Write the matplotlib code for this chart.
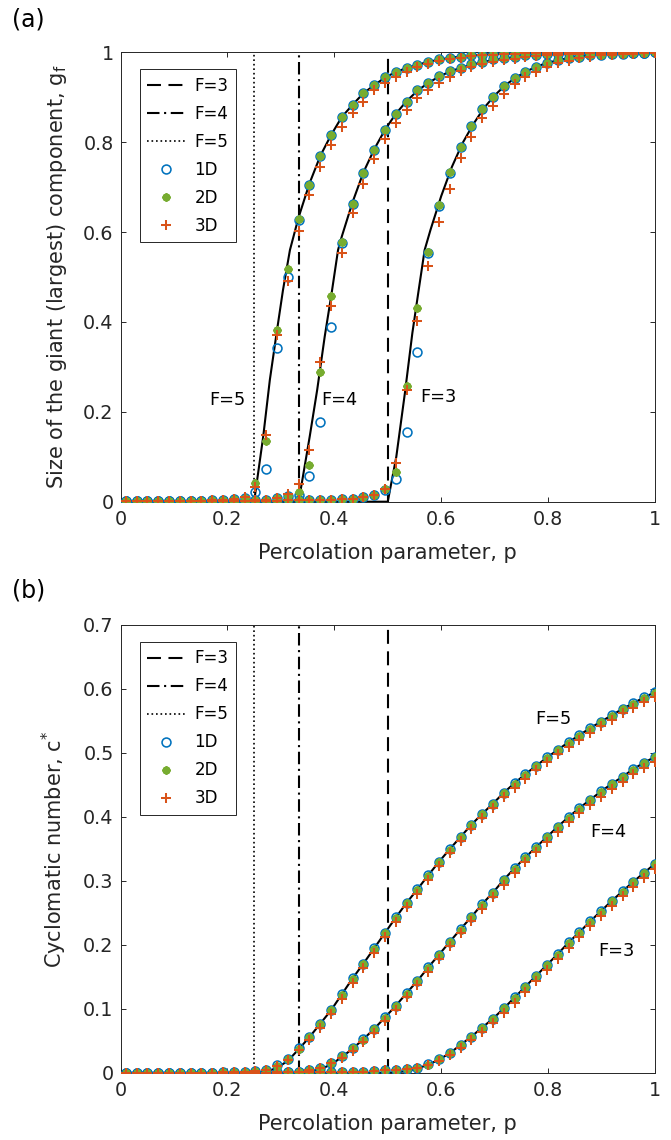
import numpy as np
import matplotlib
matplotlib.use("Agg")
import matplotlib.pyplot as plt

plt.rcParams['font.family'] = ['DejaVu Sans']

# ---------------- data ----------------
# percolation parameter grid used by the simulations
p = np.linspace(0.01, 1.0, 50)

# thresholds p_c = 1/(F-1)
F_values = [3, 4, 5]
p_c = [1 / 2, 1 / 3, 1 / 4]

# (a) size of the giant component, g_f
g3_1d = [0.001] * 10 + [0.001, 0.001, 0.002, 0.002, 0.002, 0.003, 0.003, 0.003, 0.004, 0.004,
                        0.005, 0.006, 0.010, 0.014, 0.026, 0.050, 0.156, 0.332, 0.553, 0.659,
                        0.732, 0.790, 0.836, 0.873, 0.901, 0.926, 0.942, 0.957, 0.968, 0.977,
                        0.983, 0.987, 0.990, 0.993, 0.995, 0.996, 0.997, 0.998, 0.999, 1.000]
g3_2d = [0.001] * 10 + [0.001, 0.001, 0.002, 0.002, 0.002, 0.003, 0.003, 0.003, 0.004, 0.004,
                        0.005, 0.006, 0.010, 0.015, 0.028, 0.065, 0.257, 0.430, 0.556, 0.660,
                        0.733, 0.790, 0.836, 0.873, 0.901, 0.926, 0.942, 0.957, 0.968, 0.977,
                        0.983, 0.987, 0.990, 0.993, 0.995, 0.996, 0.997, 0.998, 0.999, 1.000]
g3_3d = [0.001] * 10 + [0.001, 0.001, 0.002, 0.002, 0.002, 0.003, 0.003, 0.003, 0.004, 0.004,
                        0.005, 0.007, 0.011, 0.016, 0.028, 0.087, 0.249, 0.402, 0.525, 0.623,
                        0.695, 0.764, 0.811, 0.853, 0.880, 0.907, 0.929, 0.945, 0.957, 0.968,
                        0.977, 0.981, 0.987, 0.990, 0.993, 0.995, 0.996, 0.997, 0.998, 0.999]

g4_1d = [0.001] * 8 + [0.002, 0.002,
                       0.002, 0.002, 0.003, 0.004, 0.008, 0.012, 0.015, 0.058, 0.178, 0.389,
                       0.576, 0.662, 0.731, 0.783, 0.826, 0.862, 0.890, 0.916, 0.932, 0.947,
                       0.958, 0.966, 0.973, 0.979, 0.984, 0.987, 0.990, 0.993, 0.995, 0.996,
                       0.997, 0.998, 0.998, 0.999, 0.999, 0.999, 0.999, 0.999, 0.999, 1.000]
g4_2d = [0.001] * 8 + [0.002, 0.002,
                       0.002, 0.002, 0.003, 0.004, 0.008, 0.013, 0.022, 0.082, 0.288, 0.458,
                       0.578, 0.662, 0.731, 0.783, 0.826, 0.862, 0.890, 0.916, 0.932, 0.947,
                       0.958, 0.966, 0.973, 0.979, 0.984, 0.987, 0.990, 0.993, 0.995, 0.996,
                       0.997, 0.998, 0.998, 0.999, 0.999, 0.999, 0.999, 0.999, 0.999, 1.000]
g4_3d = [0.001] * 8 + [0.002, 0.002,
                       0.002, 0.002, 0.003, 0.004, 0.008, 0.017, 0.039, 0.115, 0.310, 0.435,
                       0.553, 0.642, 0.707, 0.762, 0.806, 0.843, 0.872, 0.898, 0.916, 0.932,
                       0.946, 0.959, 0.968, 0.974, 0.979, 0.983, 0.986, 0.990, 0.992, 0.994,
                       0.995, 0.996, 0.997, 0.998, 0.998, 0.998, 0.999, 0.999, 0.999, 0.999]

g5_1d = [0.001] * 7 + [0.002, 0.003, 0.004,
                       0.006, 0.008, 0.021, 0.073, 0.341, 0.501, 0.627, 0.705, 0.769, 0.815,
                       0.856, 0.882, 0.909, 0.927, 0.944, 0.956, 0.964, 0.972, 0.979, 0.984,
                       0.988, 0.990, 0.993, 0.995, 0.997, 0.998, 0.998, 0.999, 0.999, 0.999,
                       0.999, 0.999, 0.999, 0.999, 0.999, 0.999, 0.999, 0.999, 0.999, 1.000]
g5_2d = [0.001] * 7 + [0.002, 0.003, 0.004,
                       0.006, 0.009, 0.041, 0.135, 0.382, 0.517, 0.628, 0.705, 0.769, 0.815,
                       0.856, 0.882, 0.909, 0.927, 0.944, 0.956, 0.964, 0.972, 0.979, 0.984,
                       0.988, 0.990, 0.993, 0.995, 0.997, 0.998, 0.998, 0.999, 0.999, 0.999,
                       0.999, 0.999, 0.999, 0.999, 0.999, 0.999, 0.999, 0.999, 0.999, 1.000]
g5_3d = [0.001] * 7 + [0.002, 0.003, 0.004,
                       0.006, 0.010, 0.033, 0.148, 0.371, 0.492, 0.603, 0.682, 0.745, 0.794,
                       0.834, 0.866, 0.890, 0.915, 0.932, 0.946, 0.957, 0.967, 0.975, 0.980,
                       0.985, 0.988, 0.991, 0.993, 0.995, 0.996, 0.997, 0.998, 0.999, 0.999,
                       0.999, 0.999, 0.999, 0.999, 0.999, 0.999, 0.999, 0.999, 0.999, 0.999]

# (a) theory curves
p_th3 = [0.0, 0.5, 0.516, 0.532, 0.546, 0.557, 0.569, 0.58, 0.60, 0.62, 0.64, 0.66, 0.68,
         0.70, 0.72, 0.74, 0.76, 0.78, 0.80, 0.84, 0.88, 0.92, 0.96, 1.0]
g_th3 = [0.0, 0.0, 0.100, 0.241, 0.375, 0.464, 0.560, 0.605, 0.680, 0.745, 0.798, 0.840, 0.876,
         0.904, 0.927, 0.944, 0.958, 0.969, 0.977, 0.988, 0.994, 0.997, 0.999, 1.0]
p_th4 = [0.0, 0.3333, 0.354, 0.368, 0.382, 0.395, 0.407, 0.414, 0.434, 0.4545, 0.475, 0.495,
         0.515, 0.535, 0.556, 0.576, 0.596, 0.616, 0.64, 0.68, 0.72, 0.76, 0.80, 0.90, 1.0]
g_th4 = [0.0, 0.0, 0.145, 0.249, 0.367, 0.464, 0.560, 0.590, 0.666, 0.733, 0.785, 0.828,
         0.863, 0.891, 0.915, 0.932, 0.946, 0.957, 0.967, 0.979, 0.987, 0.992, 0.995, 0.999, 1.0]
p_th5 = [0.0, 0.25, 0.267, 0.2794, 0.292, 0.304, 0.317, 0.333, 0.3535, 0.374, 0.394, 0.414,
         0.434, 0.4545, 0.475, 0.495, 0.515, 0.535, 0.576, 0.616, 0.677, 0.78, 1.0]
g_th5 = [0.0, 0.0, 0.145, 0.271, 0.375, 0.471, 0.560, 0.632, 0.708, 0.770, 0.816, 0.856,
         0.883, 0.909, 0.927, 0.944, 0.956, 0.965, 0.979, 0.988, 0.995, 0.999, 1.0]

# (b) cyclomatic number, c*
c3_1d = [0.000] * 15 + [0.001, 0.001, 0.001, 0.001, 0.001,
                        0.001, 0.002, 0.002, 0.003, 0.004, 0.005, 0.006, 0.008, 0.014, 0.022,
                        0.032, 0.044, 0.057, 0.071, 0.085, 0.101, 0.118, 0.135, 0.152, 0.169,
                        0.186, 0.204, 0.220, 0.237, 0.253, 0.269, 0.284, 0.299, 0.313, 0.327]
c3_2d = [0.000] * 15 + [0.001, 0.001, 0.001, 0.001, 0.001,
                        0.001, 0.002, 0.002, 0.003, 0.004, 0.005, 0.006, 0.008, 0.013, 0.022,
                        0.032, 0.043, 0.057, 0.070, 0.085, 0.101, 0.117, 0.134, 0.151, 0.168,
                        0.185, 0.203, 0.219, 0.236, 0.252, 0.268, 0.283, 0.298, 0.312, 0.326]
c3_3d = [0.000] * 15 + [0.001, 0.001, 0.001, 0.001, 0.001,
                        0.001, 0.002, 0.002, 0.003, 0.004, 0.005, 0.006, 0.008, 0.012, 0.019,
                        0.028, 0.039, 0.051, 0.064, 0.078, 0.094, 0.110, 0.127, 0.144, 0.161,
                        0.178, 0.195, 0.212, 0.229, 0.245, 0.261, 0.276, 0.291, 0.305, 0.318]

c4_1d = [0.000] * 14 + [0.001, 0.001, 0.002, 0.004, 0.008, 0.015,
                        0.027, 0.039, 0.053, 0.069, 0.087, 0.105, 0.125, 0.144, 0.165, 0.185,
                        0.205, 0.225, 0.244, 0.264, 0.282, 0.302, 0.320, 0.337, 0.353, 0.369,
                        0.385, 0.400, 0.414, 0.427, 0.440, 0.452, 0.463, 0.475, 0.485, 0.494]
c4_2d = [0.000] * 14 + [0.001, 0.001, 0.002, 0.004, 0.008, 0.015,
                        0.026, 0.039, 0.052, 0.068, 0.086, 0.104, 0.124, 0.143, 0.164, 0.184,
                        0.204, 0.224, 0.243, 0.263, 0.281, 0.301, 0.319, 0.336, 0.352, 0.368,
                        0.384, 0.399, 0.413, 0.426, 0.439, 0.451, 0.462, 0.474, 0.484, 0.493]
c4_3d = [0.000] * 14 + [0.001, 0.001, 0.002, 0.004, 0.008, 0.015,
                        0.024, 0.035, 0.048, 0.063, 0.081, 0.099, 0.118, 0.137, 0.158, 0.178,
                        0.198, 0.218, 0.237, 0.256, 0.275, 0.294, 0.312, 0.329, 0.345, 0.361,
                        0.377, 0.392, 0.406, 0.419, 0.432, 0.444, 0.455, 0.467, 0.477, 0.486]

c5_1d = [0.000] * 9 + [0.001,
                       0.001, 0.002, 0.003, 0.005, 0.012, 0.022, 0.039, 0.057, 0.077, 0.098,
                       0.123, 0.148, 0.171, 0.195, 0.219, 0.243, 0.266, 0.287, 0.309, 0.330,
                       0.350, 0.369, 0.388, 0.405, 0.421, 0.438, 0.453, 0.467, 0.480, 0.493,
                       0.505, 0.517, 0.528, 0.539, 0.549, 0.559, 0.569, 0.578, 0.587, 0.595]
c5_2d = [0.000] * 9 + [0.001,
                       0.001, 0.002, 0.003, 0.005, 0.011, 0.022, 0.038, 0.056, 0.076, 0.098,
                       0.122, 0.147, 0.170, 0.194, 0.218, 0.242, 0.265, 0.286, 0.308, 0.329,
                       0.349, 0.368, 0.387, 0.404, 0.420, 0.437, 0.452, 0.466, 0.479, 0.492,
                       0.504, 0.516, 0.527, 0.538, 0.548, 0.558, 0.568, 0.577, 0.586, 0.594]
c5_3d = [0.000] * 9 + [0.001,
                       0.001, 0.002, 0.003, 0.005, 0.011, 0.021, 0.036, 0.052, 0.071, 0.092,
                       0.116, 0.141, 0.164, 0.188, 0.212, 0.236, 0.259, 0.280, 0.302, 0.323,
                       0.343, 0.362, 0.381, 0.398, 0.414, 0.431, 0.446, 0.460, 0.473, 0.486,
                       0.498, 0.510, 0.521, 0.532, 0.542, 0.552, 0.562, 0.571, 0.580, 0.588]

# (b) theory curves on the same grid
c3_th = [0.000] * 25 + [0.001, 0.003, 0.007, 0.013, 0.021,
                        0.031, 0.044, 0.057, 0.071, 0.085, 0.101, 0.118, 0.135, 0.152, 0.169,
                        0.186, 0.204, 0.220, 0.237, 0.253, 0.269, 0.284, 0.299, 0.313, 0.327]
c4_th = [0.000] * 17 + [0.002, 0.006, 0.013,
                        0.025, 0.038, 0.053, 0.069, 0.087, 0.105, 0.125, 0.144, 0.165, 0.185,
                        0.205, 0.225, 0.244, 0.264, 0.282, 0.302, 0.320, 0.337, 0.353, 0.369,
                        0.385, 0.400, 0.414, 0.427, 0.440, 0.452, 0.463, 0.475, 0.485, 0.494]
c5_th = [0.000] * 13 + [0.002, 0.008, 0.019, 0.037, 0.056, 0.077, 0.098,
                        0.123, 0.148, 0.171, 0.195, 0.219, 0.243, 0.266, 0.287, 0.309, 0.330,
                        0.350, 0.369, 0.388, 0.405, 0.421, 0.438, 0.453, 0.467, 0.480, 0.493,
                        0.505, 0.517, 0.528, 0.539, 0.549, 0.559, 0.569, 0.578, 0.587, 0.595]

dims = ['1D', '2D', '3D']

# ---------------- style ----------------
C_BLUE = '#0072BD'
C_GREEN = '#77AC30'
C_ORANGE = '#D95319'
AX_COLOR = '#262626'

vline_styles = {3: (0, (6.7, 3.6)), 4: (0, (6.0, 2.2, 1.0, 2.2)), 5: (0, (1.0, 1.7))}
vline_widths = {3: 1.5, 4: 1.5, 5: 1.2}

marker_kw = {
    '1D': dict(marker='o', ms=6.4, mfc='none', mec=C_BLUE, mew=1.15, zorder=3),
    '2D': dict(marker=(8, 2, 0), ms=5.8, mfc=C_GREEN, mec=C_GREEN, mew=1.7, zorder=4),
    '3D': dict(marker='+', ms=6.8, mec=C_ORANGE, mew=1.45, zorder=5),
}

W, H = 671, 1140
fig = plt.figure(figsize=(W / 100, H / 100), dpi=100)


def px_axes(left, right, top, bottom):
    return fig.add_axes([left / W, 1 - bottom / H, (right - left) / W, (bottom - top) / H])


def style_axes(ax, ymax, ystep):
    ax.set_xlim(0, 1)
    ax.set_ylim(0, ymax)
    ax.set_xticks(np.arange(0, 1.01, 0.2))
    ax.set_xticklabels(['0', '0.2', '0.4', '0.6', '0.8', '1'])
    yt = np.round(np.arange(0, ymax + 1e-9, ystep), 2)
    ax.set_yticks(yt)
    ax.set_yticklabels(['0' if v == 0 else ('1' if v == 1 else f'{v:g}') for v in yt])
    for s in ax.spines.values():
        s.set_color(AX_COLOR)
        s.set_linewidth(0.7)
    ax.tick_params(direction='in', length=3.8, width=0.7, color=AX_COLOR,
                   labelsize=13.8, labelcolor=AX_COLOR, top=True, right=True)
    ax.tick_params(axis='x', pad=6)
    ax.tick_params(axis='y', pad=5)


def draw_panel(ax, series, theory):
    handles = []
    for F, pc in zip(F_values, p_c):
        h = ax.axvline(pc, color='black', lw=vline_widths[F], ls=vline_styles[F], zorder=2,
                       label=f'F={F}')
        handles.append(h)
    for px_, py_ in theory:
        ax.plot(px_, py_, color='black', lw=1.5, zorder=2.5)
    for d in dims:
        first = None
        for F in F_values:
            ln, = ax.plot(p, series[F][d], ls='none', **marker_kw[d])
            if first is None:
                first = ln
        first.set_label(d)
        handles.append(first)
    leg = ax.legend(handles=handles, loc='upper left',
                    bbox_to_anchor=(19 / 534.5, 1 - 17 / 449), borderaxespad=0,
                    fontsize=12, handlelength=2.3, handletextpad=0.55,
                    labelspacing=0.6, borderpad=0.45, numpoints=1,
                    fancybox=False, framealpha=1, edgecolor=AX_COLOR)
    leg.get_frame().set_linewidth(0.7)
    return leg


# ---------------- panel (a) ----------------
ax1 = px_axes(120.5, 655, 52.3, 501.7)
series_a = {3: {'1D': g3_1d, '2D': g3_2d, '3D': g3_3d},
            4: {'1D': g4_1d, '2D': g4_2d, '3D': g4_3d},
            5: {'1D': g5_1d, '2D': g5_2d, '3D': g5_3d}}
draw_panel(ax1, series_a, [(p_th3, g_th3), (p_th4, g_th4), (p_th5, g_th5)])
style_axes(ax1, 1.0, 0.2)
ax1.set_xlabel('Percolation parameter, p', fontsize=15, color=AX_COLOR)
ax1.set_ylabel(r'Size of the giant (largest) component, g$_\mathregular{f}$',
               fontsize=15, color=AX_COLOR)
ax1.xaxis.set_label_coords(0.5, -0.092)
ax1.yaxis.set_label_coords(-0.097, 0.5)
for txt, xx, yy in [('F=5', 0.200, 0.226), ('F=4', 0.409, 0.226), ('F=3', 0.594, 0.233)]:
    ax1.text(xx, yy, txt, fontsize=12.8, ha='center', va='center', color='black')
fig.text(12 / W, 1 - 20 / H, '(a)', fontsize=17, ha='left', va='center')

# ---------------- panel (b) ----------------
ax2 = px_axes(120.5, 655, 625, 1073)
series_b = {3: {'1D': c3_1d, '2D': c3_2d, '3D': c3_3d},
            4: {'1D': c4_1d, '2D': c4_2d, '3D': c4_3d},
            5: {'1D': c5_1d, '2D': c5_2d, '3D': c5_3d}}
draw_panel(ax2, series_b, [(p, c3_th), (p, c4_th), (p, c5_th)])
style_axes(ax2, 0.7, 0.1)
ax2.set_xlabel('Percolation parameter, p', fontsize=15, color=AX_COLOR)
ax2.set_ylabel('Cyclomatic number, c$^{*}$', fontsize=15, color=AX_COLOR)
ax2.xaxis.set_label_coords(0.5, -0.092)
ax2.yaxis.set_label_coords(-0.097, 0.5)
for txt, xx, yy in [('F=5', 0.81, 0.553), ('F=4', 0.912, 0.377), ('F=3', 0.927, 0.19)]:
    ax2.text(xx, yy, txt, fontsize=12.8, ha='center', va='center', color='black')
fig.text(12 / W, 1 - 591 / H, '(b)', fontsize=17, ha='left', va='center')

fig.savefig('out.png', dpi=100)
